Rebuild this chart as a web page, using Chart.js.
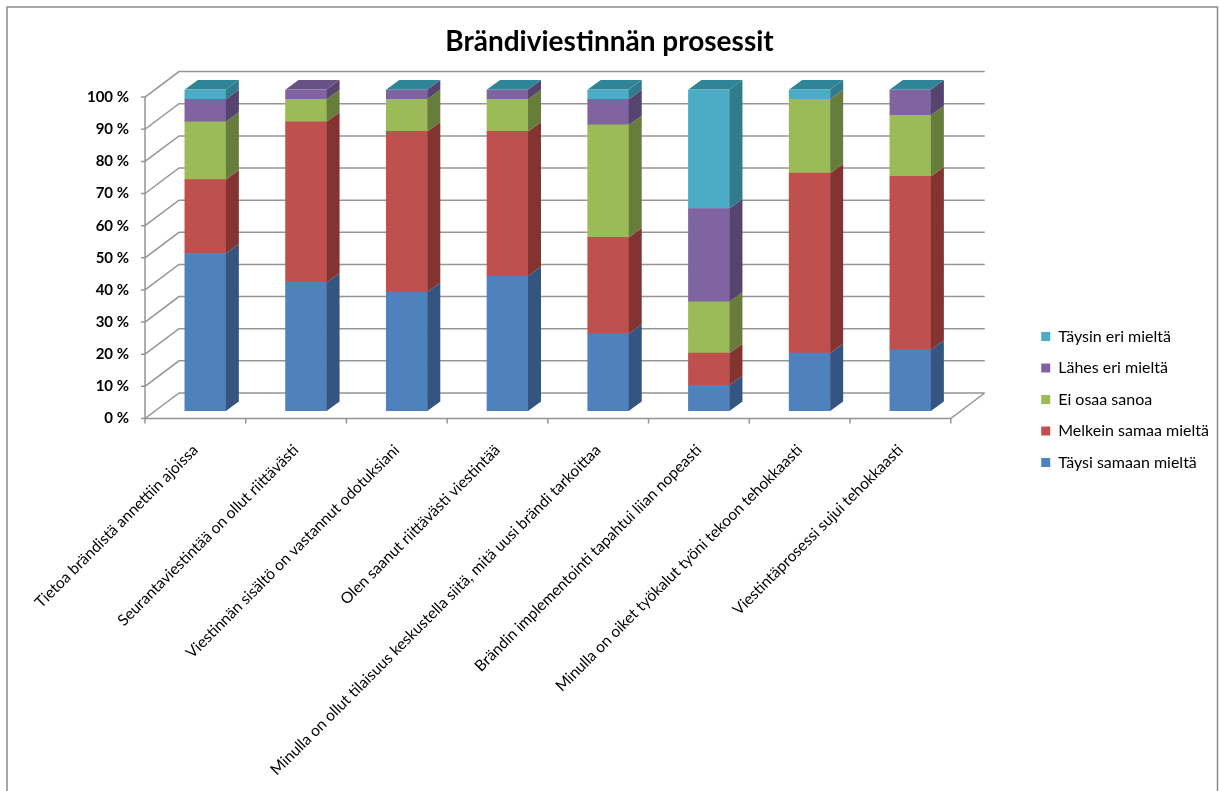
<!DOCTYPE html>
<html>
<head>
<meta charset="utf-8">
<script src="https://cdn.jsdelivr.net/npm/chart.js@4.4.1/dist/chart.umd.min.js"></script>
<style>
  html, body { margin: 0; padding: 0; background: #fff; }
  #wrap { width: 1219px; height: 791px; position: relative; }
</style>
</head>
<body>
<div id="wrap"><canvas id="chart"></canvas></div>
<script>
const categories = [
  'Tietoa brändistä annettiin ajoissa',
  'Seurantaviestintää on ollut riittävästi',
  'Viestinnän sisältö on vastannut odotuksiani',
  'Olen saanut riittävästi viestintää',
  'Minulla on ollut tilaisuus keskustella siitä, mitä uusi brändi tarkoittaa',
  'Brändin implementointi tapahtui liian nopeasti',
  'Minulla on oiket työkalut työni tekoon tehokkaasti',
  'Viestintäprosessi sujui tehokkaasti'
];
const seriesNames = ['Täysi samaan mieltä', 'Melkein samaa mieltä', 'Ei osaa sanoa', 'Lähes eri mieltä', 'Täysin eri mieltä'];
const taysiSamaan = [49, 40, 37, 42, 24, 8, 18, 19];
const melkeinSamaa = [23, 50, 50, 45, 30, 10, 56, 54];
const eiOsaa = [18, 7, 10, 10, 35, 16, 23, 19];
const lahesEri = [7, 3, 3, 3, 8, 29, 0, 8];
const taysinEri = [3, null, 0, 0, 3, 37, 3, 0];
const yTicks = [0, 10, 20, 30, 40, 50, 60, 70, 80, 90, 100];

const frontColors = ['#4F81BD', '#C0504D', '#9BBB59', '#8064A2', '#4BACC6'];
const sideColors = ['#34557F', '#833431', '#677D3B', '#56436E', '#317B8E'];
const topColors = ['#3E6697', '#9A3F3C', '#7E9847', '#675185', '#2E8597'];

// 3D offsets relative to the bar plane
const FRONT = { dx: -10, dy: 7.5 };
const BACK = { dx: 24, dy: -18 };
const DEPTH = { dx: 13, dy: -9.5 };

const walls = {
  id: 'walls',
  beforeDatasetsDraw(chart) {
    const { ctx, chartArea: a, scales: { y } } = chart;
    ctx.save();
    ctx.strokeStyle = '#959595';
    ctx.lineWidth = 1.5;
    ctx.beginPath();
    yTicks.forEach(v => {
      const py = y.getPixelForValue(v);
      // left side wall diagonal
      ctx.moveTo(a.left + FRONT.dx, py + FRONT.dy);
      ctx.lineTo(a.left + BACK.dx, py + BACK.dy);
      // back wall line
      ctx.lineTo(a.right + BACK.dx, py + BACK.dy);
      // tick on the front axis
      ctx.moveTo(a.left + FRONT.dx - 4, py + FRONT.dy);
      ctx.lineTo(a.left + FRONT.dx, py + FRONT.dy);
    });
    const y0 = y.getPixelForValue(0);
    const y100 = y.getPixelForValue(100);
    // front vertical axis
    ctx.moveTo(a.left + FRONT.dx, y100 + FRONT.dy);
    ctx.lineTo(a.left + FRONT.dx, y0 + FRONT.dy);
    // floor front edge and right edge
    ctx.lineTo(a.right + FRONT.dx, y0 + FRONT.dy);
    ctx.lineTo(a.right + BACK.dx, y0 + BACK.dy);
    // category ticks
    const step = (a.right - a.left) / categories.length;
    for (let i = 0; i <= categories.length; i++) {
      const px = a.left + FRONT.dx + i * step;
      ctx.moveTo(px, y0 + FRONT.dy);
      ctx.lineTo(px, y0 + FRONT.dy + 5);
    }
    ctx.stroke();
    ctx.restore();
  },
  afterDatasetsDraw(chart) {
    const { ctx } = chart;
    ctx.save();
    const n = chart.data.labels.length;
    for (let i = 0; i < n; i++) {
      let topIdx = -1;
      chart.data.datasets.forEach((ds, d) => {
        const el = chart.getDatasetMeta(d).data[i];
        if (ds.data[i] === null || ds.data[i] === undefined || !el) return;
        topIdx = d;
        const r = el.x + el.width / 2;
        ctx.fillStyle = sideColors[d];
        ctx.beginPath();
        ctx.moveTo(r, el.y);
        ctx.lineTo(r + DEPTH.dx, el.y + DEPTH.dy);
        ctx.lineTo(r + DEPTH.dx, el.base + DEPTH.dy);
        ctx.lineTo(r, el.base);
        ctx.closePath();
        ctx.fill();
      });
      if (topIdx >= 0) {
        const el = chart.getDatasetMeta(topIdx).data[i];
        const l = el.x - el.width / 2, r = el.x + el.width / 2;
        ctx.fillStyle = topColors[topIdx];
        ctx.beginPath();
        ctx.moveTo(l, el.y);
        ctx.lineTo(r, el.y);
        ctx.lineTo(r + DEPTH.dx, el.y + DEPTH.dy);
        ctx.lineTo(l + DEPTH.dx, el.y + DEPTH.dy);
        ctx.closePath();
        ctx.fill();
      }
    }
    ctx.restore();
  },
  afterDraw(chart) {
    const { ctx } = chart;
    ctx.save();
    ctx.strokeStyle = '#8a8a8a';
    ctx.lineWidth = 1.5;
    ctx.beginPath();
    ctx.moveTo(7, 800);
    ctx.lineTo(7, 7);
    ctx.lineTo(1217.5, 7);
    ctx.lineTo(1217.5, 800);
    ctx.stroke();
    ctx.restore();
  }
};

const seriesData = [taysiSamaan, melkeinSamaa, eiOsaa, lahesEri, taysinEri];

new Chart(document.getElementById('chart'), {
  type: 'bar',
  data: {
    labels: categories,
    datasets: seriesData.map((values, i) => ({
      label: seriesNames[i],
      data: values,
      backgroundColor: frontColors[i],
      borderWidth: 0,
      barThickness: 41
    }))
  },
  options: {
    responsive: true,
    maintainAspectRatio: false,
    animation: false,
    layout: { padding: { top: 10, right: 0, bottom: 2, left: 0 } },
    plugins: {
      title: {
        display: true,
        text: 'Brändiviestinnän prosessit',
        color: '#000',
        font: { family: 'Lato', size: 28, weight: 'bold' },
        padding: { top: 15, bottom: 31 }
      },
      legend: {
        position: 'right',
        reverse: true,
        labels: {
          boxWidth: 9,
          boxHeight: 9,
          padding: 15.5,
          color: '#000',
          font: { family: 'Lato', size: 16 }
        }
      },
      tooltip: { enabled: false }
    },
    scales: {
      x: {
        stacked: true,
        grid: { display: false },
        border: { display: false },
        afterFit: s => { s.height = 378; },
        ticks: {
          autoSkip: false,
          maxRotation: 45,
          minRotation: 45,
          padding: 22,
          labelOffset: -10,
          color: '#000',
          font: { family: 'Lato', size: 15.5 }
        }
      },
      y: {
        stacked: true,
        min: 0,
        max: 100,
        grid: { display: false },
        border: { display: false },
        afterFit: s => { s.width = 155; },
        ticks: {
          stepSize: 10,
          padding: 18,
          labelOffset: 7.5,
          color: '#000',
          font: { family: 'Lato', size: 15, weight: 'bold' },
          callback: v => v + ' %'
        }
      },
      spacer: {
        position: 'right',
        display: true,
        grid: { display: false },
        border: { display: false },
        ticks: { display: false },
        afterFit: s => { s.width = 65; }
      }
    }
  },
  plugins: [walls]
});
</script>
</body>
</html>
